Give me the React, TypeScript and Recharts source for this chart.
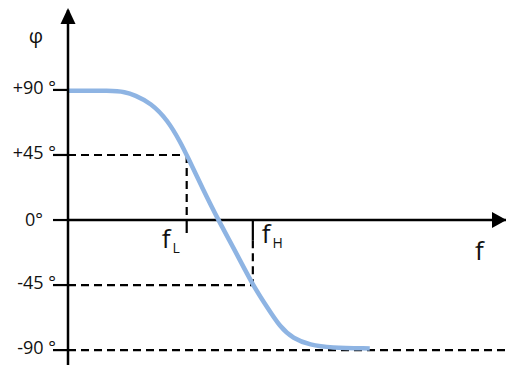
import React from "react";
import {
  LineChart,
  Line,
  XAxis,
  YAxis,
  ReferenceLine,
  ReferenceDot,
} from "recharts";

// phase response
const FREQ = [0, 1.0, 1.3, 1.52, 1.89, 2.28, 2.58, 2.71, 3.07, 3.43, 3.82, 4.22, 4.54, 4.84, 5.14, 5.53, 5.98, 6.89];
const PHASE = [89.5, 89.5, 88.6, 86.5, 81, 69, 53, 45, 22, 0, -21.5, -45, -60, -74, -82, -86.5, -88.4, -88.8];

const Y_TICKS = [-90, -45, 0, 45, 90];
const Y_LABELS = ["-90 °", "-45 °", "0°", "+45 °", "+90 °"];

const F_L = 2.71;
const F_H = 4.22;
const X_MAX = 10;
const Y_MIN = -100.3;
const Y_MAX = 145.3;

const data = FREQ.map((f, i) => ({ f, phase: PHASE[i] }));

const FONT = "'Open Sans', sans-serif";
const INK = "#111";
const DASH = "8 5";

function PhaseTick({ x, y, payload }: any) {
  const i = Y_TICKS.indexOf(payload.value);
  const zero = payload.value === 0;
  return (
    <g>
      <line x1={x - 15} x2={x} y1={y} y2={y} stroke="#000" strokeWidth={2.2} />
      <text
        x={zero ? x - 25 : x - 12}
        y={zero ? y + 6 : y + 4}
        textAnchor="end"
        fontSize={18}
        fontFamily={FONT}
        fill={INK}
      >
        {Y_LABELS[i]}
      </text>
    </g>
  );
}

function UpArrow({ cx, cy }: any) {
  return (
    <g>
      <polygon points={`${cx},${cy - 2} ${cx - 7.5},${cy + 14} ${cx + 7.5},${cy + 14}`} fill="#000" />
      <text x={cx - 32} y={cy + 33} textAnchor="middle" fontSize={20} fontFamily={FONT} fill={INK}>
        φ
      </text>
    </g>
  );
}

function RightArrow({ cx, cy }: any) {
  return (
    <g>
      <polygon points={`${cx + 0.5},${cy} ${cx - 14},${cy - 8} ${cx - 14},${cy + 8}`} fill="#000" />
      <text x={cx - 31} y={cy + 40} fontSize={26} fontFamily={FONT} fill={INK}>
        f
      </text>
    </g>
  );
}

function FreqLabel({ cx, cy, sub, dx, dy }: any) {
  return (
    <text x={cx + dx} y={cy + dy} fontFamily={FONT} fill={INK}>
      <tspan fontSize={26}>f</tspan>
      <tspan fontSize={14} dx={2} dy={5}>{sub}</tspan>
    </text>
  );
}

export default function App() {
  return (
    <div style={{ position: "absolute", left: 0, top: 0, background: "#fff" }}>
      <LineChart
        width={506}
        height={365}
        data={data}
        margin={{ top: 10, right: 0, bottom: 0, left: 0 }}
      >
        <XAxis dataKey="f" type="number" domain={[0, X_MAX]} hide allowDataOverflow />
        <YAxis
          type="number"
          domain={[Y_MIN, Y_MAX]}
          allowDataOverflow
          ticks={Y_TICKS}
          width={68}
          tickSize={0}
          tickMargin={0}
          tickLine={false}
          axisLine={{ stroke: "#000", strokeWidth: 2.5 }}
          tick={(props: any) => <PhaseTick {...props} />}
        />

        <ReferenceLine y={0} stroke="#000" strokeWidth={2.5} />

        <ReferenceLine segment={[{ x: 0, y: 45 }, { x: F_L, y: 45 }]} stroke="#000" strokeWidth={2.2} strokeDasharray={DASH} />
        <ReferenceLine segment={[{ x: F_L, y: 45 }, { x: F_L, y: 0 }]} stroke="#000" strokeWidth={2.2} strokeDasharray={DASH} />
        <ReferenceLine segment={[{ x: F_L, y: 0 }, { x: F_L, y: -9 }]} stroke="#000" strokeWidth={2.2} />

        <ReferenceLine segment={[{ x: 0, y: -45 }, { x: F_H, y: -45 }]} stroke="#000" strokeWidth={2.2} strokeDasharray={DASH} />
        <ReferenceLine segment={[{ x: F_H, y: 0 }, { x: F_H, y: -14 }]} stroke="#000" strokeWidth={2.2} />
        <ReferenceLine segment={[{ x: F_H, y: -14 }, { x: F_H, y: -45 }]} stroke="#000" strokeWidth={2.2} strokeDasharray={DASH} />

        <ReferenceLine segment={[{ x: 0, y: -90 }, { x: X_MAX, y: -90 }]} stroke="#000" strokeWidth={2.2} strokeDasharray={DASH} />

        <Line
          type="basis"
          dataKey="phase"
          stroke="#8EB4E3"
          strokeWidth={4.5}
          dot={false}
          activeDot={false}
          isAnimationActive={false}
        />

        <ReferenceDot x={0} y={Y_MAX} r={0} ifOverflow="visible" shape={(p: any) => <UpArrow {...p} />} />
        <ReferenceDot x={X_MAX} y={0} r={0} ifOverflow="visible" shape={(p: any) => <RightArrow {...p} />} />
        <ReferenceDot x={F_L} y={0} r={0} ifOverflow="visible" shape={(p: any) => <FreqLabel {...p} sub="L" dx={-25} dy={28} />} />
        <ReferenceDot x={F_H} y={0} r={0} ifOverflow="visible" shape={(p: any) => <FreqLabel {...p} sub="H" dx={9} dy={23} />} />
      </LineChart>
    </div>
  );
}
